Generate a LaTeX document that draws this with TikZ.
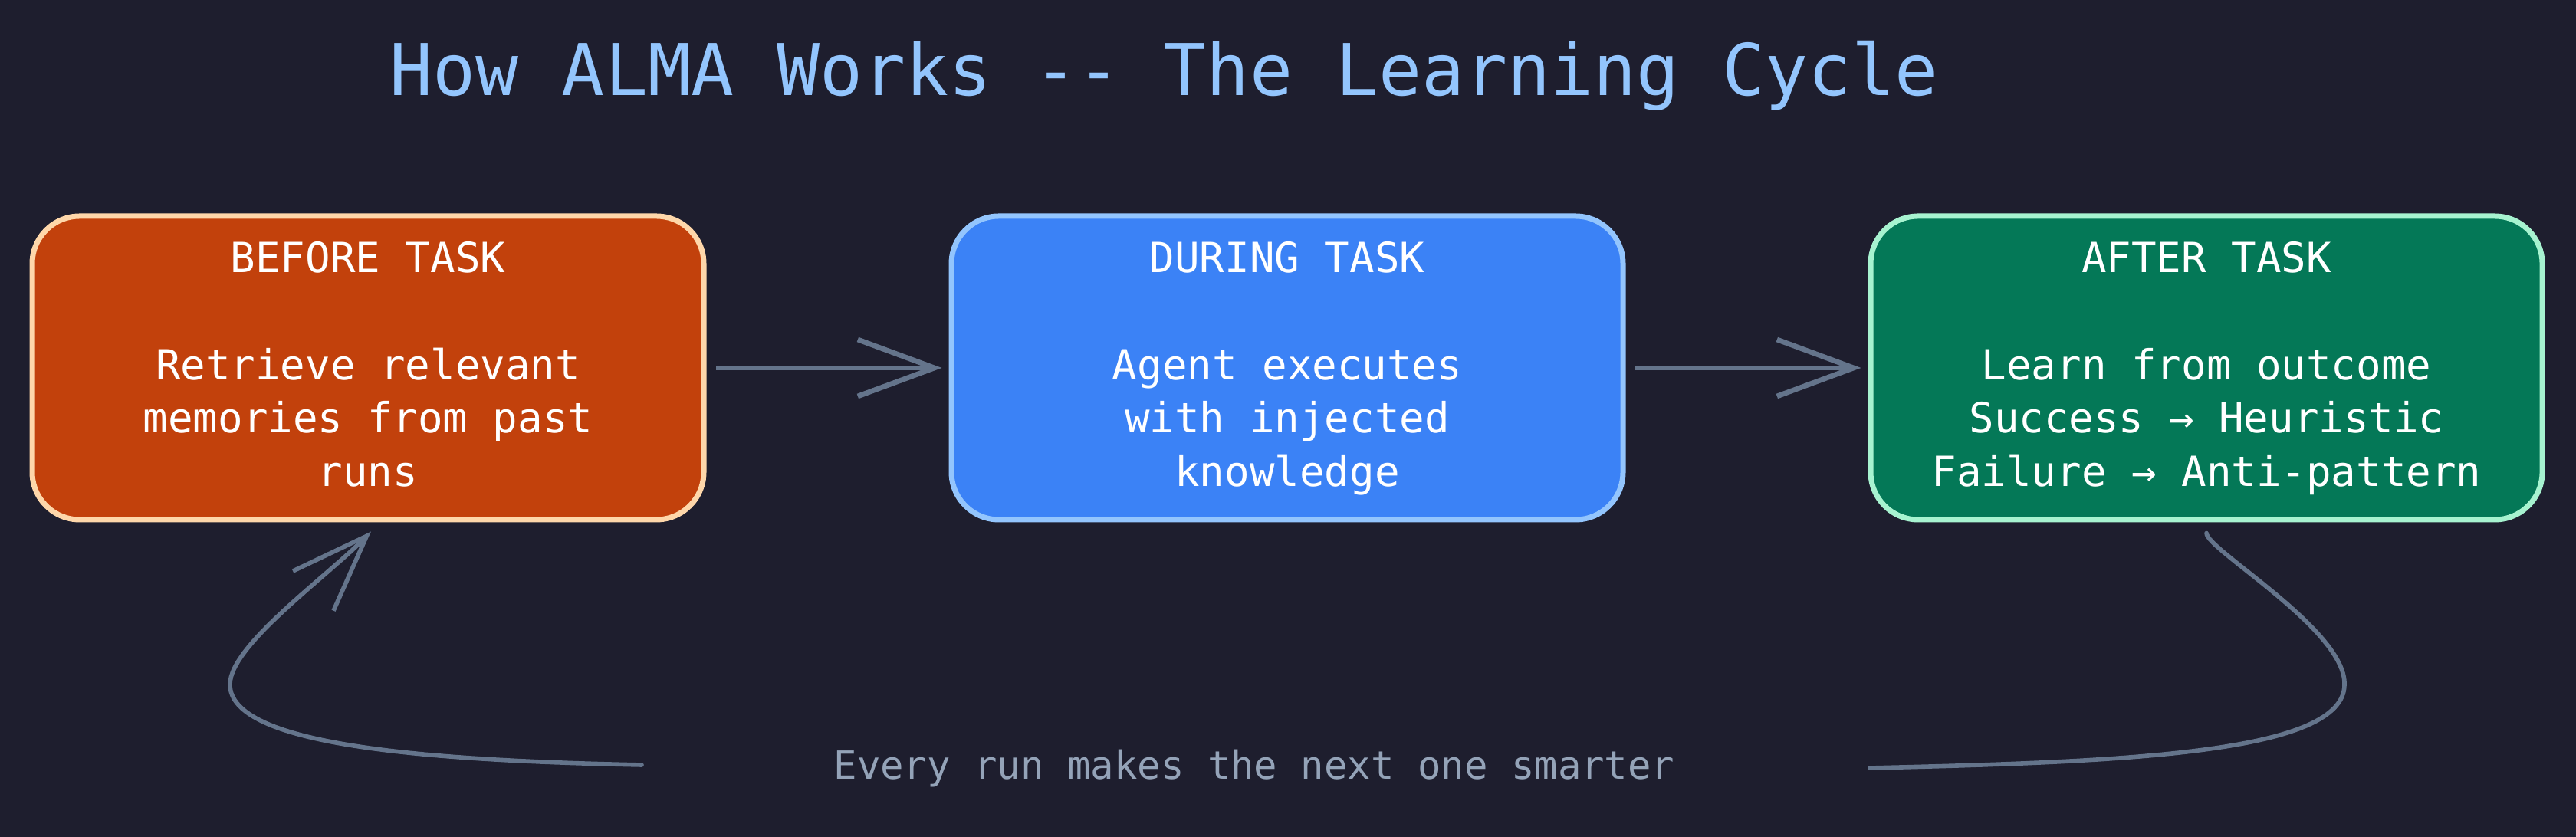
\documentclass[tikz,border=0pt]{standalone}
\usepackage{fontspec}
\setmainfont{DejaVu Sans Mono}
\usepackage{tikz}
\usetikzlibrary{positioning,arrows.meta}

\definecolor{bgc}{HTML}{1E1E2E}
\definecolor{arrc}{HTML}{64748B}
\definecolor{titlec}{HTML}{93C5FD}
\definecolor{footc}{HTML}{94A3B8}
\definecolor{befc}{HTML}{C2410C}
\definecolor{befb}{HTML}{FED7AA}
\definecolor{durc}{HTML}{3B82F6}
\definecolor{durb}{HTML}{93C5FD}
\definecolor{aftc}{HTML}{047857}
\definecolor{aftb}{HTML}{A7F3D0}

\begin{document}
\begin{tikzpicture}[auto,
    ->,
    >={Straight Barb[length=1cm,width=0.74cm]},
    node distance=3.16cm,
    bb/.style={%
      rectangle, rounded corners=0.62cm, line width=0.07cm,
      minimum width=8.76cm, minimum height=3.96cm, inner sep=6pt,
      align=center, text=white, text depth=0.1cm,
      font=\fontsize{15.4}{19.8}\selectfont
    },
    inv/.style={%
      rectangle, draw=none, inner sep=0pt, align=center
    },
    link/.style={%
      draw=arrc, line width=0.067cm, shorten <=0.12cm, shorten >=0.09cm
    },
    loop/.style={%
      draw=arrc, line width=1.6pt, line cap=round
    }
]
    \fill[bgc] (0,0) rectangle (33.6,10.92);
    \useasboundingbox (0,0) rectangle (33.6,10.92);

    \node[bb, fill=befc, draw=befb] (1) at (4.80,6.12)
      {BEFORE TASK\\[19.8pt] Retrieve relevant\\ memories from past\\ runs};
    \node[bb, fill=durc, draw=durb] (2) [right = of 1]
      {DURING TASK\\[19.8pt] Agent executes\\ with injected\\ knowledge};
    \node[bb, fill=aftc, draw=aftb] (3) [right = of 2]
      {AFTER TASK\\[19.8pt] Learn from outcome\\ Success → Heuristic\\ Failure → Anti-pattern};

    \node[inv, text=titlec, font=\fontsize{26.5}{32}\selectfont] (4) at (15.18,9.93)
      {How ALMA Works \mbox{-}\mbox{-} The Learning Cycle};
    \node[inv, text=footc, font=\fontsize{14.4}{18}\selectfont] (5) at (16.36,0.89)
      {Every run makes the next one smarter};

    \coordinate (6) at (8.37,0.94);
    \coordinate (7) at (24.39,0.90);

    \path (1) edge[link] (2)
          (2) edge[link] (3)
    ;

    % loop back from after to before
    \draw[loop] (6)
      .. controls (5.5,1.0) and (3.0,1.2) .. (3.0,1.99)
      .. controls (3.0,2.5) and (4.26,3.39) .. ([xshift=0.04cm,yshift=-0.12cm]1.south);
    \draw[loop, -] ([yshift=-0.14cm]3.south)
      .. controls (28.78,3.75) and (30.6,2.7) .. (30.58,1.99)
      .. controls (30.58,1.1) and (27.8,0.98) .. (7);

\end{tikzpicture}
\end{document}
